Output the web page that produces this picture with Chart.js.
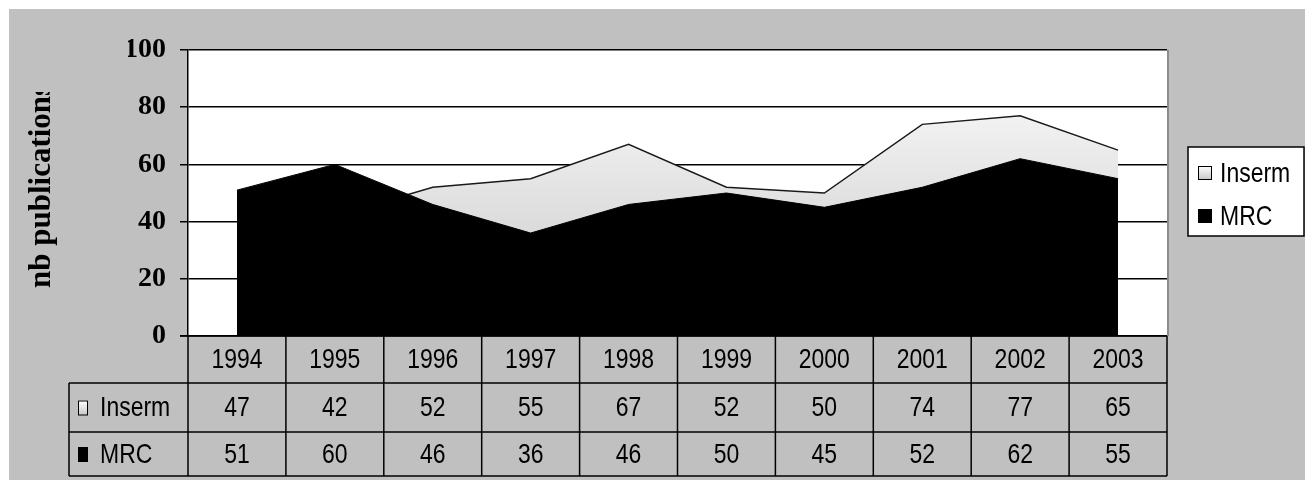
<!DOCTYPE html>
<html>
<head>
<meta charset="utf-8">
<script src="https://cdn.jsdelivr.net/npm/chart.js@4.4.0/dist/chart.umd.min.js"></script>
<style>
  html, body { margin: 0; padding: 0; background: #ffffff; }
  canvas { display: block; }
</style>
</head>
<body>
<canvas id="pubChart" width="1305" height="482"></canvas>
<script>
const years = ["1994", "1995", "1996", "1997", "1998", "1999", "2000", "2001", "2002", "2003"];
const insermValues = [47, 42, 52, 55, 67, 52, 50, 74, 77, 65];
const mrcValues = [51, 60, 46, 36, 46, 50, 45, 52, 62, 55];
const yTitle = "nb publications";

const TABLE_FONT = "28px 'Liberation Sans', Arial, sans-serif";
const NARROW = 0.82; // the original font is a narrow Arial
const SERIF_BOLD = "'Liberation Serif', 'DejaVu Serif', serif";

function insermGradient(ctx, top, bottom) {
  const g = ctx.createLinearGradient(0, top, 0, bottom);
  g.addColorStop(0, "#ffffff");
  g.addColorStop(1, "#c6c6c6");
  return g;
}

function narrowText(ctx, text, x, y) {
  ctx.save();
  ctx.translate(x, y);
  ctx.scale(NARROW, 1);
  ctx.fillText(text, 0, 0);
  ctx.restore();
}

function drawMarker(ctx, kind, x, y, w, h) {
  if (kind === "Inserm") {
    ctx.fillStyle = insermGradient(ctx, y, y + h);
  } else {
    ctx.fillStyle = "#000000";
  }
  ctx.fillRect(x, y, w, h);
  ctx.strokeStyle = "#000000";
  ctx.lineWidth = 1;
  ctx.strokeRect(x + 0.5, y + 0.5, w - 1, h - 1);
}

const backgroundPlugin = {
  id: "excelBackground",
  beforeDraw(chart) {
    const ctx = chart.ctx;
    ctx.save();
    ctx.fillStyle = "#ffffff";
    ctx.fillRect(0, 0, chart.width, chart.height);
    ctx.fillStyle = "#c0c0c0";
    ctx.fillRect(9, 9, chart.width - 9, 471);
    const area = chart.chartArea;
    ctx.fillStyle = "#ffffff";
    ctx.fillRect(area.left, area.top, area.right - area.left, area.bottom - area.top);
    ctx.restore();
  }
};

const extrasPlugin = {
  id: "excelExtras",
  afterDraw(chart) {
    const ctx = chart.ctx;
    const area = chart.chartArea;
    const xScale = chart.scales.x;
    const half = (xScale.getPixelForValue(1) - xScale.getPixelForValue(0)) / 2;
    const rowTops = [area.bottom, area.bottom + 47, area.bottom + 96, area.bottom + 140];
    const labelLeft = 69;

    ctx.save();
    // right edge of plot area
    ctx.strokeStyle = "#8c8c8c";
    ctx.lineWidth = 2;
    ctx.beginPath();
    ctx.moveTo(area.right + 1, area.top);
    ctx.lineTo(area.right + 1, area.bottom);
    ctx.stroke();

    // data table grid
    ctx.strokeStyle = "#000000";
    ctx.lineWidth = 1.5;
    ctx.beginPath();
    ctx.moveTo(area.left - 8, rowTops[0]);
    ctx.lineTo(area.right, rowTops[0]);
    for (let r = 1; r < rowTops.length; r++) {
      ctx.moveTo(labelLeft, rowTops[r]);
      ctx.lineTo(area.right, rowTops[r]);
    }
    ctx.moveTo(labelLeft, rowTops[1]);
    ctx.lineTo(labelLeft, rowTops[3]);
    years.forEach((year, i) => {
      const x = xScale.getPixelForValue(i) - half;
      ctx.moveTo(x, rowTops[0]);
      ctx.lineTo(x, rowTops[3]);
    });
    ctx.moveTo(area.right, rowTops[0]);
    ctx.lineTo(area.right, rowTops[3]);
    ctx.stroke();

    // data table text
    ctx.fillStyle = "#000000";
    ctx.font = TABLE_FONT;
    ctx.textAlign = "center";
    ctx.textBaseline = "middle";
    const rows = [years, insermValues, mrcValues];
    rows.forEach((row, r) => {
      const yMid = (rowTops[r] + rowTops[r + 1]) / 2 + 1;
      row.forEach((v, i) => {
        narrowText(ctx, String(v), xScale.getPixelForValue(i), yMid);
      });
    });

    const seriesNames = chart.data.datasets.map((d) => d.label);
    ctx.textAlign = "left";
    seriesNames.forEach((name, r) => {
      const yMid = (rowTops[r + 1] + rowTops[r + 2]) / 2;
      drawMarker(ctx, name, labelLeft + 9, yMid - 7, 10, 15);
      ctx.fillStyle = "#000000";
      narrowText(ctx, name, labelLeft + 31, yMid + 1);
    });

    // legend
    const lx = 1188, ly = 147, lw = 116, lh = 89;
    ctx.fillStyle = "#ffffff";
    ctx.fillRect(lx, ly, lw, lh);
    ctx.strokeStyle = "#000000";
    ctx.lineWidth = 1.5;
    ctx.strokeRect(lx, ly, lw, lh);
    seriesNames.forEach((name, i) => {
      const yMid = ly + 26 + i * 43;
      drawMarker(ctx, name, lx + 10, yMid - 7, 14, 14);
      ctx.fillStyle = "#000000";
      narrowText(ctx, name, lx + 32, yMid + 1);
    });

    // y-axis title, clipped at the top like the original
    ctx.beginPath();
    ctx.rect(0, 92, 120, 260);
    ctx.clip();
    ctx.translate(42, 288);
    ctx.rotate(-Math.PI / 2);
    ctx.font = "bold 31px " + SERIF_BOLD;
    ctx.textAlign = "left";
    ctx.fillText(yTitle, 0, 0);
    ctx.restore();
  }
};

const context = document.getElementById("pubChart").getContext("2d");
new Chart(context, {
  type: "line",
  data: {
    labels: years,
    datasets: [
      {
        label: "Inserm",
        data: insermValues,
        order: 2,
        fill: "origin",
        borderColor: "#1a1a1a",
        borderWidth: 1.5,
        pointRadius: 0,
        tension: 0,
        backgroundColor: (c) => {
          const area = c.chart.chartArea;
          if (!area) return "#e8e8e8";
          return insermGradient(c.chart.ctx, area.top, area.bottom);
        }
      },
      {
        label: "MRC",
        data: mrcValues,
        order: 1,
        fill: "origin",
        borderColor: "#000000",
        borderWidth: 1,
        pointRadius: 0,
        tension: 0,
        backgroundColor: "#000000"
      }
    ]
  },
  options: {
    responsive: false,
    animation: false,
    devicePixelRatio: 1,
    layout: { padding: { top: 50, left: 128, right: 138, bottom: 146 } },
    plugins: { legend: { display: false }, tooltip: { enabled: false } },
    scales: {
      x: { display: false, offset: true },
      y: {
        min: 0,
        max: 100,
        afterFit: (scale) => { scale.width = 60; },
        border: { display: true, color: "#000000", width: 1.5 },
        grid: { color: "#000000", lineWidth: 1.5, tickLength: 8 },
        ticks: {
          stepSize: 20,
          padding: 14,
          color: "#000000",
          font: { family: SERIF_BOLD, weight: "bold", size: 28 }
        }
      }
    }
  },
  plugins: [backgroundPlugin, extrasPlugin]
});
</script>
</body>
</html>
